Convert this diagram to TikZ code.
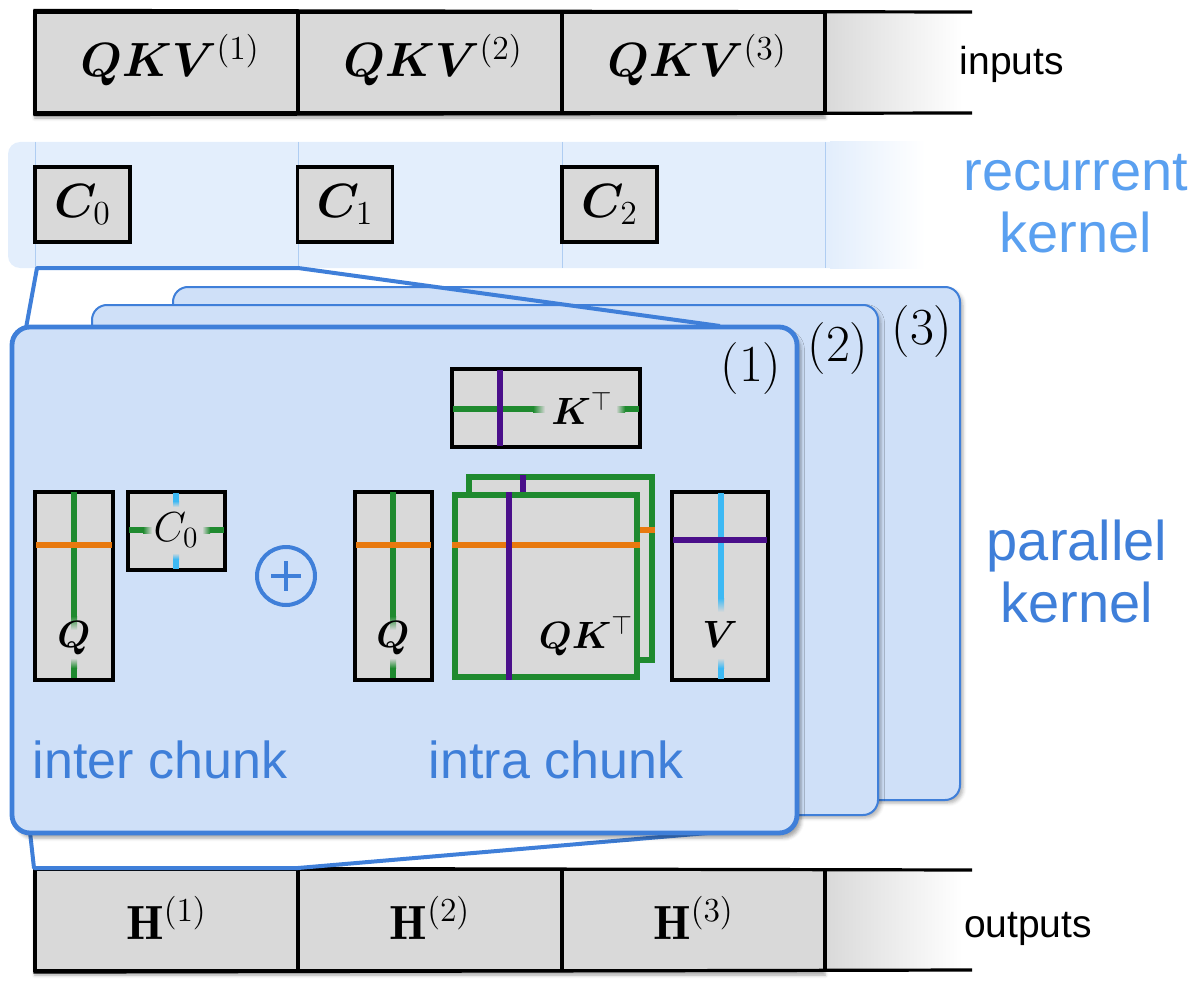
\RequirePackage{fix-cm}
\documentclass[tikz,border=0pt]{standalone}
\usepackage{amsmath,bm}
\usepackage{fontspec}
\newfontfamily\labelfont{Liberation Sans}
\usetikzlibrary{shadows,shadows.blur}
\definecolor{boxgray}{HTML}{D9D9D9}
\definecolor{panelfill}{HTML}{CFE0F8}
\definecolor{bandfill}{HTML}{E3EEFC}
\definecolor{panelblue}{HTML}{3F7FD9}
\definecolor{lightlab}{HTML}{5AA0F0}
\definecolor{gridline}{HTML}{AFCDF2}
\definecolor{mgreen}{HTML}{1F8A2F}
\definecolor{mpurple}{HTML}{4A0F8A}
\definecolor{morange}{HTML}{E8790F}
\definecolor{mcyan}{HTML}{3DB9F4}
\begin{document}
\begin{tikzpicture}[x=0.5pt,y=-0.5pt,
  rowbox/.style={draw=black,line width=1.6pt,fill=boxgray,inner sep=0pt,minimum width=131.5pt,minimum height=50.5pt},
  cbox/.style={draw=black,line width=1.6pt,fill=boxgray,inner sep=0pt,minimum width=47.5pt,minimum height=37.5pt},
  bigmath/.style={font=\fontsize{24}{25}\selectfont},
  midmath/.style={font=\fontsize{19}{20}\selectfont},
  sidelab/.style={font=\labelfont\fontsize{19.5}{22}\selectfont},
  kernlab/.style={font=\labelfont\fontsize{28}{31}\selectfont,align=center},
  chunklab/.style={font=\labelfont\fontsize{26}{28}\selectfont,text=panelblue},
  panelnum/.style={font=\fontsize{26}{27}\selectfont},
  panel/.style={fill=panelfill,draw=panelblue,rounded corners=7.5pt},
  mat/.style={draw=black,line width=1.6pt,fill=boxgray},
  trap/.style={draw=panelblue,line width=2pt,line join=round}
]
\useasboundingbox (0,0) rectangle (1200,990);

% ---------------- inputs row
\path[blur shadow={shadow xshift=0pt,shadow yshift=-2.5pt,shadow opacity=35}] (35,12) rectangle (825,113);
\shade[left color=boxgray,right color=white] (825,12) rectangle (962,113);
\node[rowbox] (in1) at (166.5,62.5) {};
\node[rowbox] (in2) at (430,62.5) {};
\node[rowbox] (in3) at (693.5,62.5) {};
\draw[line width=1.6pt] (in1.north west) -- (972,12);
\draw[line width=1.6pt] (in1.south west) -- (972,113);
\node[bigmath] (qkv1) at (170,60) {$\bm{QKV}^{(1)}$};
\node[bigmath] (qkv2) at (433,60) {$\bm{QKV}^{(2)}$};
\node[bigmath] (qkv3) at (697,60) {$\bm{QKV}^{(3)}$};
\node[sidelab] (inlab) at (1012,64) {inputs};

% ---------------- recurrent kernel band
\fill[bandfill,rounded corners=6pt] (8,142) rectangle (860,268);
\shade[left color=bandfill,right color=white] (830,142) rectangle (925,268);
\foreach \x in {35,298,562,825} \draw[gridline,line width=0.5pt] (\x,142) -- (\x,268);
\coordinate (bandbl) at (37,268);
\coordinate (bandmid) at (298,268);
\node[cbox] (c0) at (82.5,204.5) {};
\node[cbox] (c1) at (345,204.5) {};
\node[cbox] (c2) at (609.5,204.5) {};
\node[bigmath] at (c0) {$\bm{C}_0$};
\node[bigmath] at (c1) {$\bm{C}_1$};
\node[bigmath] at (c2) {$\bm{C}_2$};
\node[kernlab,text=lightlab] (reclab) at (1076,204) {recurrent\\kernel};

% ---------------- outputs row
\path[blur shadow={shadow xshift=0pt,shadow yshift=-2.5pt,shadow opacity=35}] (35,870) rectangle (825,970);
\shade[left color=boxgray,right color=white] (825,870) rectangle (962,970);
\node[rowbox] (out1) at (166.5,920) {};
\node[rowbox] (out2) at (430,920) {};
\node[rowbox] (out3) at (693.5,920) {};
\draw[line width=1.6pt] (out1.north west) -- (972,870);
\draw[line width=1.6pt] (out1.south west) -- (972,970);
\node[bigmath] (h1) at (166.5,918) {$\mathbf{H}^{(1)}$};
\node[bigmath] (h2) at (430,918) {$\mathbf{H}^{(2)}$};
\node[bigmath] (h3) at (693.5,918) {$\mathbf{H}^{(3)}$};
\node[sidelab] (outlab) at (1028,929) {outputs};

% ---------------- back panels
\path[panel,line width=1pt,blur shadow={shadow xshift=1.5pt,shadow yshift=-1.5pt,shadow opacity=30}] (173,287) rectangle (960,800);
\node[panelnum] (n3) at (922,332) {(3)};
\path[panel,line width=1pt,blur shadow={shadow xshift=1.5pt,shadow yshift=-1.5pt,shadow opacity=30}] (92,305) rectangle (878,815);
\node[panelnum] (n2) at (838,349) {(2)};

% trapezoid connectors
\coordinate (p1tl) at (26,328);
\coordinate (p1tr) at (720,326);
\coordinate (p1bl) at (30,832);
\coordinate (p1br) at (719,832);
\coordinate (outtl) at (34,868);
\coordinate (outmid) at (298,868);
\draw[trap] (p1tl) -- (bandbl) -- (bandmid) -- (p1tr);
\draw[trap] (p1bl) -- (outtl) -- (outmid) -- (p1br);

% ---------------- front panel
\path[panel,line width=2.4pt,rounded corners=9pt,blur shadow={shadow xshift=2pt,shadow yshift=-2.5pt,shadow opacity=35}] (12,327) rectangle (797,833);
\node[panelnum] (n1) at (751,369) {(1)};

% inter chunk: Q
\path[mat] (35,492) rectangle (113,680);
\fill[mgreen] (71,492) rectangle (77,616);
\shade[top color=mgreen,bottom color=boxgray] (71,616) rectangle (77,630);
\shade[top color=boxgray,bottom color=mgreen] (71,658) rectangle (77,668);
\fill[mgreen] (71,668) rectangle (77,678);
\fill[morange] (36,542) rectangle (112,548);
\node[midmath] (qa) at (74,638) {$\bm{Q}$};
% inter chunk: C0
\path[mat] (128,492) rectangle (225,570);
\fill[mgreen] (129,527) rectangle (143,533);
\shade[left color=mgreen,right color=boxgray] (143,527) rectangle (152,533);
\shade[left color=boxgray,right color=mgreen] (202,527) rectangle (210,533);
\fill[mgreen] (210,527) rectangle (224,533);
\fill[mcyan] (173,493) rectangle (179,501);
\shade[top color=mcyan,bottom color=boxgray] (173,501) rectangle (179,507);
\shade[top color=boxgray,bottom color=mcyan] (173,553) rectangle (179,559);
\fill[mcyan] (173,559) rectangle (179,569);
\node[font=\fontsize{21}{22}\selectfont] (cin) at (176,530) {$C_0$};

% oplus
\node[circle,draw=panelblue,line width=2pt,minimum size=29pt,inner sep=0pt] (plus) at (286,576) {};
\draw[panelblue,line width=2pt] (271,576) -- (301,576) (286,561) -- (286,591);

% intra chunk: Q
\path[mat] (355,492) rectangle (432,680);
\fill[mgreen] (390,492) rectangle (396,616);
\shade[top color=mgreen,bottom color=boxgray] (390,616) rectangle (396,630);
\shade[top color=boxgray,bottom color=mgreen] (390,658) rectangle (396,668);
\fill[mgreen] (390,668) rectangle (396,678);
\fill[morange] (356,542) rectangle (431,548);
\node[midmath] (qb) at (393,638) {$\bm{Q}$};

% K^T
\path[mat] (452,369) rectangle (640,447);
\fill[mgreen] (453,406) rectangle (533,412);
\shade[left color=mgreen,right color=boxgray] (533,406) rectangle (545,412);
\shade[left color=boxgray,right color=mgreen] (616,406) rectangle (625,412);
\fill[mgreen] (625,406) rectangle (639,412);
\fill[mpurple] (497,370) rectangle (503,446);
\node[midmath] (kt) at (582,408) {$\bm{K}^{\top}$};

% QK^T back square
\path[fill=boxgray,draw=mgreen,line width=3pt] (469,477) rectangle (652,660);
\fill[mpurple] (520,475) rectangle (526,494);
\fill[morange] (640,527) rectangle (655,533);
% QK^T front square
\path[fill=boxgray,draw=mgreen,line width=3pt] (455,495) rectangle (637,677);
\fill[morange] (452,542) rectangle (640,548);
\fill[mpurple] (506,492) rectangle (512,680);
\node[midmath] (qkt) at (586,636) {$\bm{QK}^{\top}$};

% V
\path[mat] (672,492) rectangle (768,680);
\fill[mcyan] (718,493) rectangle (724,598);
\shade[top color=mcyan,bottom color=boxgray] (718,598) rectangle (724,612);
\shade[top color=boxgray,bottom color=mcyan] (718,658) rectangle (724,668);
\fill[mcyan] (718,668) rectangle (724,679);
\fill[mpurple] (673,537) rectangle (767,543);
\node[midmath] (vv) at (720,634) {$\bm{V}$};

\node[chunklab] (inter) at (160,760) {inter chunk};
\node[chunklab] (intra) at (556,760) {intra chunk};
\node[kernlab,text=panelblue] (parlab) at (1077,571) {parallel\\kernel};
\end{tikzpicture}
\end{document}
